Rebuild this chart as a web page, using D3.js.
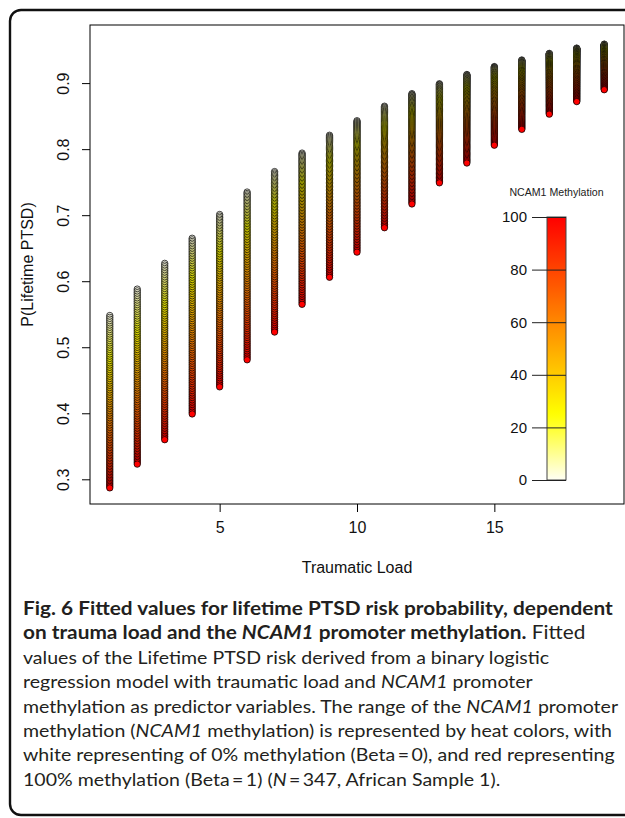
<!DOCTYPE html>
<html>
<head>
<meta charset="utf-8">
<script src="https://cdn.jsdelivr.net/npm/d3@7"></script>
<style>
  html, body { margin: 0; padding: 0; background: #fff; }
  svg { display: block; }
</style>
</head>
<body>
<div id="chart"></div>
<script>
// Fitted P(Lifetime PTSD) per traumatic load:
// top of each column = 0% methylation, bottom (red dot) = 100% methylation
const traumaLoad = [1, 2, 3, 4, 5, 6, 7, 8, 9, 10, 11, 12, 13, 14, 15, 16, 17, 18, 19];
const pAtZeroMeth = [0.548, 0.588, 0.627, 0.665, 0.701, 0.735, 0.766, 0.794, 0.821, 0.843,
                     0.865, 0.884, 0.899, 0.913, 0.925, 0.935, 0.945, 0.953, 0.959];
const pAtFullMeth = [0.287, 0.323, 0.360, 0.399, 0.440, 0.481, 0.523, 0.565, 0.606, 0.644,
                     0.681, 0.717, 0.749, 0.779, 0.806, 0.830, 0.853, 0.872, 0.890];

const xTicks = [5, 10, 15];
const yTicks = [0.3, 0.4, 0.5, 0.6, 0.7, 0.8, 0.9];
const legendTicks = [0, 20, 40, 60, 80, 100];

// methylation levels in percent (one fitted point per level in each column)
const methylationLevels = d3.range(0, 101, 1);

const captionLines = [
  [{ t: "Fig. 6 Fitted values for lifetime PTSD risk probability, dependent", b: 1 }],
  [{ t: "on trauma load and the ", b: 1 }, { t: "NCAM1", b: 1, i: 1 }, { t: " promoter methylation.", b: 1 }, { t: " Fitted" }],
  [{ t: "values of the Lifetime PTSD risk derived from a binary logistic" }],
  [{ t: "regression model with traumatic load and " }, { t: "NCAM1", i: 1 }, { t: " promoter" }],
  [{ t: "methylation as predictor variables. The range of the " }, { t: "NCAM1", i: 1 }, { t: " promoter" }],
  [{ t: "methylation (" }, { t: "NCAM1", i: 1 }, { t: " methylation) is represented by heat colors, with" }],
  [{ t: "white representing of 0% methylation (Beta\u2009=\u20090), and red representing" }],
  [{ t: "100% methylation (Beta\u2009=\u20091) (" }, { t: "N", i: 1 }, { t: "\u2009=\u2009347, African Sample 1)." }]
];

const W = 625, H = 818;
const svg = d3.select("#chart").append("svg").attr("width", W).attr("height", H);

// outer rounded frame
svg.append("rect")
  .attr("x", 10).attr("y", 10)
  .attr("width", 660).attr("height", 805)
  .attr("rx", 11)
  .attr("fill", "none")
  .attr("stroke", "#111")
  .attr("stroke-width", 2.4);

const plot = { left: 90, right: 624, top: 25, bottom: 504 };

const x = d3.scaleLinear().domain([0.28, 19.72]).range([plot.left, plot.right]);
const y = d3.scaleLinear().domain([0.2626, 0.988]).range([plot.bottom, plot.top]);

const heat = d3.scaleLinear()
  .domain([0, 25, 100])
  .range(["#fffff4", "#ffff00", "#ff0000"])
  .interpolate(d3.interpolateHsl);

const fontR = "'Liberation Sans', Arial, sans-serif";

// points
const logit = p => Math.log(p / (1 - p));
const expit = v => 1 / (1 + Math.exp(-v));

const gPts = svg.append("g");
traumaLoad.forEach((tl, i) => {
  const a = logit(pAtZeroMeth[i]), b = logit(pAtFullMeth[i]);
  const pts = methylationLevels.map(m => ({ m, p: expit(a + (b - a) * m / 100) }));
  gPts.append("g").selectAll("circle")
    .data(pts)
    .join("circle")
    .attr("cx", x(tl))
    .attr("cy", d => y(d.p))
    .attr("r", 3.2)
    .attr("fill", d => heat(d.m))
    .attr("stroke", "#000")
    .attr("stroke-width", 0.75);
});

// box
svg.append("rect")
  .attr("x", plot.left).attr("y", plot.top)
  .attr("width", plot.right - plot.left).attr("height", plot.bottom - plot.top)
  .attr("fill", "none").attr("stroke", "#000").attr("stroke-width", 1);

// x axis
const xAxis = svg.append("g")
  .attr("transform", `translate(0,${plot.bottom})`)
  .call(d3.axisBottom(x).tickValues(xTicks).tickSize(8).tickPadding(10).tickFormat(d3.format("d")));
xAxis.select(".domain").remove();
xAxis.selectAll("text").attr("font-family", fontR).attr("font-size", 16).attr("fill", "#111");

// y axis
const yAxis = svg.append("g")
  .attr("transform", `translate(${plot.left},0)`)
  .call(d3.axisLeft(y).tickValues(yTicks).tickSize(8).tickFormat(d3.format(".1f")));
yAxis.select(".domain").remove();
yAxis.selectAll("text")
  .attr("font-family", fontR).attr("font-size", 16).attr("fill", "#111")
  .attr("text-anchor", "middle")
  .attr("x", null).attr("dy", null)
  .attr("transform", "translate(-21,0) rotate(-90)")
  .attr("y", 0);

svg.append("text")
  .attr("x", (plot.left + plot.right) / 2).attr("y", 573)
  .attr("text-anchor", "middle")
  .attr("font-family", fontR).attr("font-size", 16).attr("fill", "#111")
  .text("Traumatic Load");

svg.append("text")
  .attr("transform", `translate(33,${(plot.top + plot.bottom) / 2}) rotate(-90)`)
  .attr("text-anchor", "middle")
  .attr("font-family", fontR).attr("font-size", 16).attr("fill", "#111")
  .text("P(Lifetime PTSD)");

// legend
const leg = { x0: 547, x1: 566, top: 217, bottom: 480 };
const ly = d3.scaleLinear().domain([0, 100]).range([leg.bottom, leg.top]);
const grad = svg.append("defs").append("linearGradient")
  .attr("id", "heatgrad").attr("x1", 0).attr("y1", 1).attr("x2", 0).attr("y2", 0);
grad.selectAll("stop")
  .data(d3.range(0, 101, 2))
  .join("stop")
  .attr("offset", d => d / 100)
  .attr("stop-color", d => heat(d));

svg.append("rect")
  .attr("x", leg.x0).attr("y", leg.top)
  .attr("width", leg.x1 - leg.x0).attr("height", leg.bottom - leg.top)
  .attr("fill", "url(#heatgrad)")
  .attr("stroke", "#444").attr("stroke-width", 1);

const legAxis = svg.append("g")
  .attr("transform", `translate(${leg.x1},0)`)
  .call(d3.axisLeft(ly).tickValues(legendTicks).tickSize(34).tickPadding(5));
legAxis.select(".domain").remove();
legAxis.selectAll("line").attr("stroke", "#222");
legAxis.selectAll("text").attr("font-family", fontR).attr("font-size", 15).attr("fill", "#111");

svg.append("text")
  .attr("x", 556.5).attr("y", 196)
  .attr("text-anchor", "middle")
  .attr("font-family", fontR).attr("font-size", 10.6).attr("fill", "#222")
  .text("NCAM1 Methylation");

// caption: one horizontal squeeze for the bold title, one for the body text
const capX = 23, capY0 = 615, capDy = 24.4;
const capNodes = captionLines.map((line, i) => {
  const t = svg.append("text")
    .attr("x", capX).attr("y", capY0 + i * capDy)
    .attr("font-family", "Lato, 'Open Sans', sans-serif")
    .attr("font-size", i < 2 ? 18.5 : 17.5)
    .attr("fill", "#231f20");
  line.forEach(seg => {
    t.append("tspan")
      .attr("font-weight", seg.b ? 700 : 400)
      .attr("font-style", seg.i ? "italic" : "normal")
      .text(seg.t);
  });
  return t;
});
const kBold = (613 - capX) / capNodes[0].node().getComputedTextLength();
const kBody = (612 - capX) / capNodes[5].node().getComputedTextLength();
capNodes.forEach((t, i) => {
  const k = i < 2 ? kBold : kBody;
  t.attr("transform", `translate(${capX},0) scale(${k},1) translate(${-capX},0)`);
});
</script>
</body>
</html>
